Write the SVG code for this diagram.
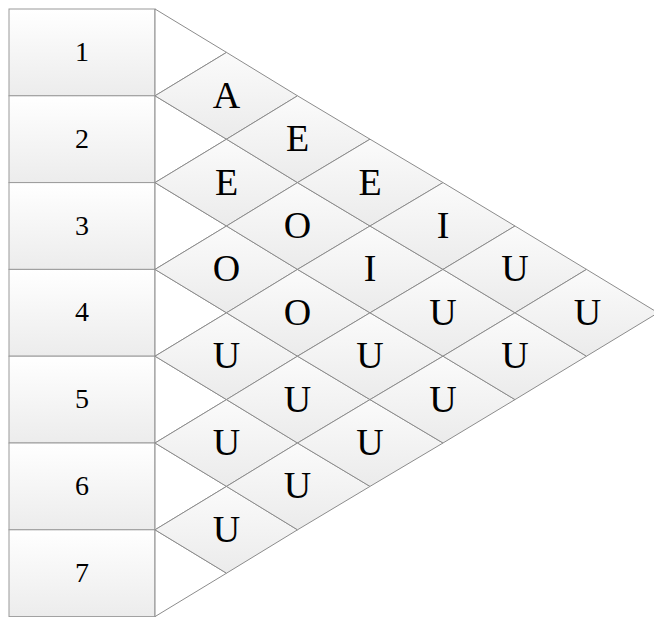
<svg xmlns="http://www.w3.org/2000/svg" width="654" height="617" viewBox="0 0 654 617">
<defs>
<linearGradient id="gBox" x1="0" y1="0" x2="0" y2="1">
<stop offset="0" stop-color="#ffffff"/>
<stop offset="1" stop-color="#ececec"/>
</linearGradient>
<linearGradient id="gDia" x1="0" y1="0" x2="0" y2="1">
<stop offset="0" stop-color="#fbfbfb"/>
<stop offset="1" stop-color="#ebebeb"/>
</linearGradient>
<style>
.box{fill:url(#gBox);stroke:#9a9a9a;stroke-width:1}
.dia{fill:url(#gDia);stroke:#8c8c8c;stroke-width:1}
.tri{fill:#ffffff;stroke:#8c8c8c;stroke-width:1}
.num{font-family:"Liberation Serif","Times New Roman",serif;font-size:28px;fill:#000;text-anchor:middle}
.let{font-family:"Liberation Serif","Times New Roman",serif;font-size:38px;fill:#000;text-anchor:middle}
</style>
</defs>
<rect width="654" height="617" fill="#ffffff"/>
<g id="boxes">
<g id="box1"><rect class="box" x="9" y="9" width="146" height="86.8"/><text class="num" x="82" y="61">1</text></g>
<g id="box2"><rect class="box" x="9" y="95.8" width="146" height="86.8"/><text class="num" x="82" y="147.8">2</text></g>
<g id="box3"><rect class="box" x="9" y="182.6" width="146" height="86.8"/><text class="num" x="82" y="234.6">3</text></g>
<g id="box4"><rect class="box" x="9" y="269.4" width="146" height="86.8"/><text class="num" x="82" y="321.4">4</text></g>
<g id="box5"><rect class="box" x="9" y="356.2" width="146" height="86.8"/><text class="num" x="82" y="408.2">5</text></g>
<g id="box6"><rect class="box" x="9" y="443" width="146" height="86.8"/><text class="num" x="82" y="495">6</text></g>
<g id="box7"><rect class="box" x="9" y="529.8" width="146" height="86.8"/><text class="num" x="82" y="581.8">7</text></g>
</g>
<g id="edges">
<polygon class="tri" points="155,9 226.5,52.4 155,95.8"/>
<polygon class="tri" points="155,95.8 226.5,139.2 155,182.6"/>
<polygon class="tri" points="155,182.6 226.5,226 155,269.4"/>
<polygon class="tri" points="155,269.4 226.5,312.8 155,356.2"/>
<polygon class="tri" points="155,356.2 226.5,399.6 155,443"/>
<polygon class="tri" points="155,443 226.5,486.4 155,529.8"/>
<polygon class="tri" points="155,529.8 226.5,573.2 155,616.6"/>
</g>
<g id="cells">
<g id="c12"><polygon class="dia" points="155,95.8 226.5,52.4 297.5,95.8 226.5,139.2"/><text class="let" x="226.5" y="107.8">A</text></g>
<g id="c23"><polygon class="dia" points="155,182.6 226.5,139.2 297.5,182.6 226.5,226"/><text class="let" x="226.5" y="194.6">E</text></g>
<g id="c34"><polygon class="dia" points="155,269.4 226.5,226 297.5,269.4 226.5,312.8"/><text class="let" x="226.5" y="281.4">O</text></g>
<g id="c45"><polygon class="dia" points="155,356.2 226.5,312.8 297.5,356.2 226.5,399.6"/><text class="let" x="226.5" y="368.2">U</text></g>
<g id="c56"><polygon class="dia" points="155,443 226.5,399.6 297.5,443 226.5,486.4"/><text class="let" x="226.5" y="455">U</text></g>
<g id="c67"><polygon class="dia" points="155,529.8 226.5,486.4 297.5,529.8 226.5,573.2"/><text class="let" x="226.5" y="541.8">U</text></g>
<g id="c13"><polygon class="dia" points="226.5,139.2 297.5,95.8 370,139.2 297.5,182.6"/><text class="let" x="297.5" y="151.2">E</text></g>
<g id="c24"><polygon class="dia" points="226.5,226 297.5,182.6 370,226 297.5,269.4"/><text class="let" x="297.5" y="238">O</text></g>
<g id="c35"><polygon class="dia" points="226.5,312.8 297.5,269.4 370,312.8 297.5,356.2"/><text class="let" x="297.5" y="324.8">O</text></g>
<g id="c46"><polygon class="dia" points="226.5,399.6 297.5,356.2 370,399.6 297.5,443"/><text class="let" x="297.5" y="411.6">U</text></g>
<g id="c57"><polygon class="dia" points="226.5,486.4 297.5,443 370,486.4 297.5,529.8"/><text class="let" x="297.5" y="498.4">U</text></g>
<g id="c14"><polygon class="dia" points="297.5,182.6 370,139.2 443,182.6 370,226"/><text class="let" x="370" y="194.6">E</text></g>
<g id="c25"><polygon class="dia" points="297.5,269.4 370,226 443,269.4 370,312.8"/><text class="let" x="370" y="281.4">I</text></g>
<g id="c36"><polygon class="dia" points="297.5,356.2 370,312.8 443,356.2 370,399.6"/><text class="let" x="370" y="368.2">U</text></g>
<g id="c47"><polygon class="dia" points="297.5,443 370,399.6 443,443 370,486.4"/><text class="let" x="370" y="455">U</text></g>
<g id="c15"><polygon class="dia" points="370,226 443,182.6 515,226 443,269.4"/><text class="let" x="443" y="238">I</text></g>
<g id="c26"><polygon class="dia" points="370,312.8 443,269.4 515,312.8 443,356.2"/><text class="let" x="443" y="324.8">U</text></g>
<g id="c37"><polygon class="dia" points="370,399.6 443,356.2 515,399.6 443,443"/><text class="let" x="443" y="411.6">U</text></g>
<g id="c16"><polygon class="dia" points="443,269.4 515,226 586.5,269.4 515,312.8"/><text class="let" x="515" y="281.4">U</text></g>
<g id="c27"><polygon class="dia" points="443,356.2 515,312.8 586.5,356.2 515,399.6"/><text class="let" x="515" y="368.2">U</text></g>
<g id="c17"><polygon class="dia" points="515,312.8 586.5,269.4 658,312.8 586.5,356.2"/><text class="let" x="587.5" y="324.8">U</text></g>
</g>
</svg>
